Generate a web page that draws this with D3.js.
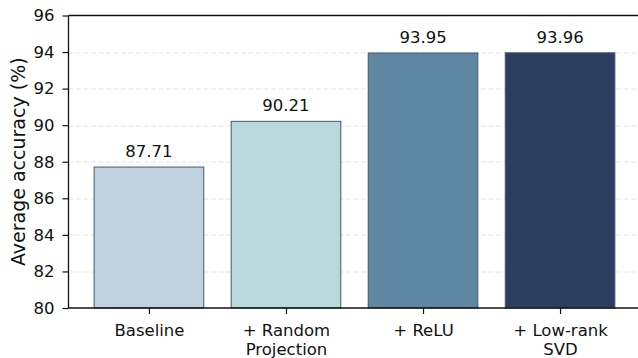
<!DOCTYPE html>
<html>
<head>
<meta charset="utf-8">
<script src="https://cdn.jsdelivr.net/npm/d3@7"></script>
<style>
  body { margin: 0; background: #fff; }
  svg { font-family: "DejaVu Sans", sans-serif; }
</style>
</head>
<body>
<div id="chart"></div>
<script>
const categories = [["Baseline"], ["+ Random", "Projection"], ["+ ReLU"], ["+ Low-rank", "SVD"]];
const accuracy = [87.71, 90.21, 93.95, 93.96];
const barColors = ["#c0d2e0", "#b8d9d9", "#5f86a3", "#2c3e5f"];
const yTicks = [80, 82, 84, 86, 88, 90, 92, 94, 96];

const W = 638, H = 358;
const margin = { top: 15.5, right: -2.5, bottom: 50, left: 68.5 };
const width = W - margin.left - margin.right;
const height = H - margin.top - margin.bottom;

const svg = d3.select("#chart").append("svg")
    .attr("width", W)
    .attr("height", H);

const g = svg.append("g")
    .attr("transform", `translate(${margin.left},${margin.top})`);

const idx = d3.range(categories.length);

// matplotlib style: bar width 0.8, x limits -0.59 .. n-0.41
const x = d3.scaleLinear()
    .domain([-0.587, categories.length - 1 + 0.587])
    .range([0, width]);
const bw = x(0.8) - x(0);

const y = d3.scaleLinear()
    .domain([80, 96])
    .range([height, 0]);

// grid
g.append("g")
    .selectAll("line")
    .data(yTicks.slice(1, -1))
    .enter().append("line")
    .attr("x1", 0)
    .attr("x2", width)
    .attr("y1", d => Math.round(y(d)) + 0.5)
    .attr("y2", d => Math.round(y(d)) + 0.5)
    .attr("stroke", "#dddddd")
    .attr("stroke-width", 0.8)
    .attr("stroke-dasharray", "5,2.5");

g.selectAll(".bar")
    .data(idx)
    .enter().append("rect")
    .attr("class", "bar")
    .attr("x", i => x(i) - bw / 2)
    .attr("y", i => y(accuracy[i]))
    .attr("width", bw)
    .attr("height", i => y(80) - y(accuracy[i]))
    .attr("fill", (i) => barColors[i])
    .attr("stroke", "#4b5668")
    .attr("stroke-width", 1);

g.selectAll(".val")
    .data(idx)
    .enter().append("text")
    .attr("class", "val")
    .attr("x", i => x(i))
    .attr("y", i => y(accuracy[i]) - 10)
    .attr("text-anchor", "middle")
    .attr("font-size", 16.5)
    .attr("fill", "#111")
    .text(i => accuracy[i].toFixed(2));

// y axis
const yAxis = g.append("g")
    .call(d3.axisLeft(y).tickValues(yTicks).tickSize(6).tickPadding(8).tickFormat(d3.format("d")));
yAxis.selectAll("text").attr("font-size", 16.5).attr("fill", "#111").attr("font-family", "DejaVu Sans");
yAxis.selectAll("line").attr("stroke", "#111").attr("stroke-width", 1.2);
yAxis.select(".domain").attr("stroke", "#111").attr("stroke-width", 1.3).attr("d", `M0,${height}V0`);

// x axis
const xAxis = g.append("g")
    .attr("transform", `translate(0,${height})`)
    .call(d3.axisBottom(x).tickValues(idx).tickSize(6).tickFormat(""));
xAxis.selectAll("line").attr("stroke", "#111").attr("stroke-width", 1.2);
xAxis.select(".domain").attr("stroke", "#111").attr("stroke-width", 1.3).attr("d", `M0,0H${width}`);

xAxis.selectAll(".tick")
    .append("text")
    .attr("text-anchor", "middle")
    .attr("font-size", 16.5)
    .attr("fill", "#111")
    .attr("font-family", "DejaVu Sans")
    .selectAll("tspan")
    .data(i => categories[i])
    .enter().append("tspan")
    .attr("x", 0)
    .attr("y", (d, j) => 27.5 + j * 19.5)
    .text(d => d);

// top spine
g.append("line")
    .attr("x1", 0).attr("x2", width)
    .attr("y1", 0).attr("y2", 0)
    .attr("stroke", "#111")
    .attr("stroke-width", 1.3);

svg.append("text")
    .attr("transform", `translate(24.5,${margin.top + height / 2}) rotate(-90)`)
    .attr("text-anchor", "middle")
    .attr("font-size", 19)
    .attr("fill", "#111")
    .text("Average accuracy (%)");
</script>
</body>
</html>
